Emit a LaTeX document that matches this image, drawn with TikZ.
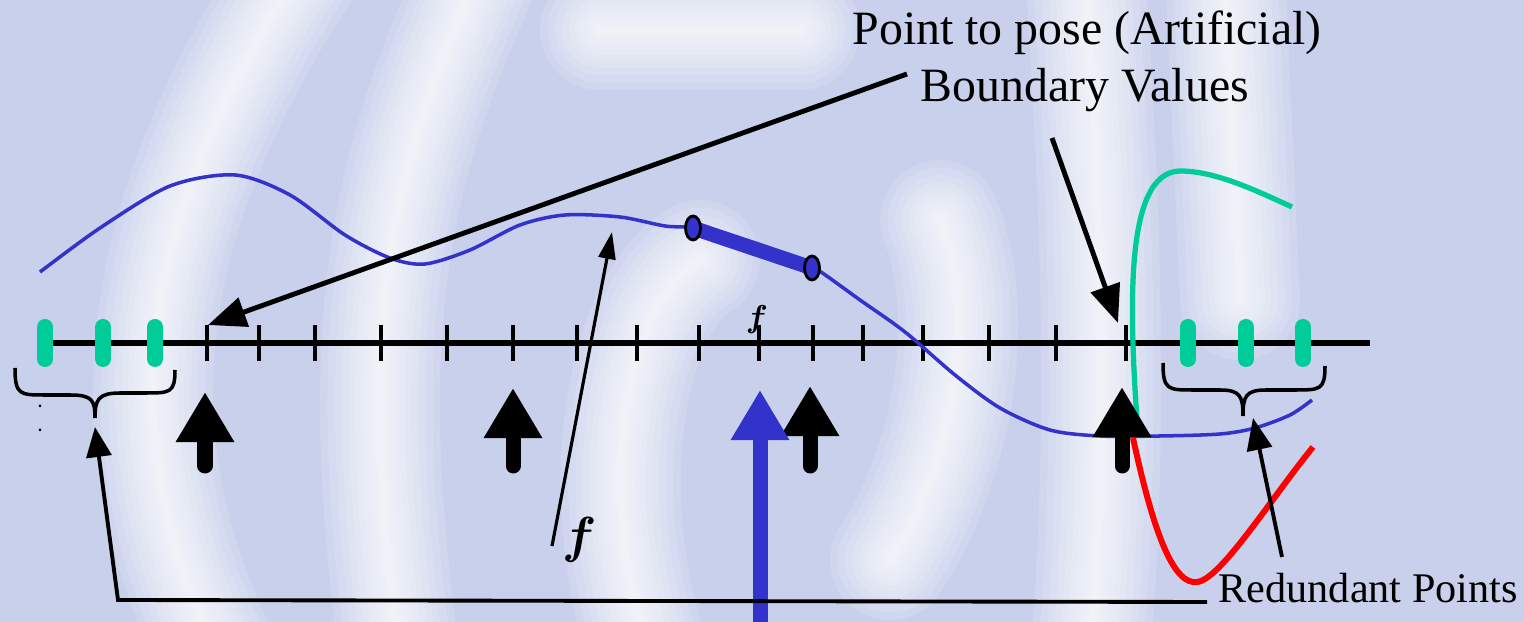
\documentclass[tikz,border=0pt]{standalone}
\usepackage{fontspec}
\setmainfont{Liberation Serif}
\usepackage{bm}
\usetikzlibrary{arrows.meta}
\definecolor{bgblue}{RGB}{200,208,236}
\definecolor{fnblue}{RGB}{51,51,204}
\definecolor{bvgreen}{RGB}{0,204,153}
\begin{document}
\begin{tikzpicture}[x=0.01cm, y=-0.01cm,
    glow/.style={white, line cap=round, opacity=0.14},
    axisline/.style={line width=1.7pt},
    tickmark/.style={line width=1pt},
    pad/.style={bvgreen, line width=0.16cm, line cap=round},
    bracestyle/.style={line width=1pt},
    blockarrow/.style={line width=0.15cm, line cap=round, -{Triangle[width=0.55cm,length=0.5cm]}},
    pointer/.style={line width=1.4pt, -{Triangle[width=0.3cm,length=0.38cm]}},
    thinpointer/.style={line width=0.9pt, -{Triangle[width=0.17cm,length=0.27cm]}}]
  \useasboundingbox (0,0) rectangle (1524,622);
  \fill[bgblue] (0,0) rectangle (1524,622);
  % faint watermark in the background
  \begin{scope}
    \clip (0,0) rectangle (1524,622);
    \foreach \w in {1.2,1.05,0.9,0.76,0.62,0.5,0.38,0.27,0.17,0.08}{
      \draw[glow, line width=\w cm] (300,-30) .. controls (150,200) and (100,420) .. (220,660);
      \draw[glow, line width=\w cm] (480,-30) .. controls (400,150) and (350,300) .. (400,660);
      \draw[glow, line width=\w cm] (650,660) .. controls (590,480) and (630,300) .. (700,260);
      \draw[glow, line width=\w cm] (940,220) .. controls (980,320) and (950,470) .. (890,560);
      \draw[glow, line width=\w cm] (1085,-30) .. controls (1100,200) and (1110,420) .. (1090,660);
      \draw[glow, line width=\w cm] (1225,-30) -- (1240,300);
      \draw[glow, line width=\w cm] (600,30) -- (800,30);
    }
  \end{scope}

  % axis with ticks and boundary pads
  \draw[axisline] (40,343) -- (1370,343);
  \foreach \x in {207,259,315,381,447,513,577,637,699,759,813,863,923,989,1056,1126}
    \draw[tickmark] (\x,325) -- (\x,361);
  \foreach \x in {45,103,155,1188,1246,1303}
    \draw[pad] (\x,327) -- (\x,359);

  % the function f
  \draw[fnblue, line width=1pt] plot[smooth] coordinates {(40,272) (100,228) (170,186)
    (235,175) (290,195) (345,235) (390,258) (425,264) (470,250) (520,225) (565,215)
    (620,217) (665,226) (695,228) (745,240) (790,256) (815,268) (860,300) (905,332)
    (955,375) (1000,408) (1050,430) (1100,436) (1160,436) (1220,434) (1255,428)
    (1290,415) (1312,400)};
  \coordinate (lo) at (693,228);
  \coordinate (ro) at (812,268);
  \draw[fnblue, line width=4.2pt] (lo) -- (ro);
  \draw[fill=fnblue, line width=0.8pt] (lo) ellipse (0.075cm and 0.12cm);
  \draw[fill=fnblue, line width=0.8pt] (ro) ellipse (0.075cm and 0.12cm);

  % extrapolations past the boundary
  \draw[bvgreen, line width=1.5pt] (1138,435) .. controls (1130,320) and (1122,172) .. (1180,171)
    .. controls (1215,171) and (1255,190) .. (1292,207);
  \draw[red, line width=1.7pt] (1133,438) .. controls (1155,540) and (1175,585) .. (1197,582)
    .. controls (1220,580) and (1270,500) .. (1313,447);

  % braces under the redundant points
  \draw[bracestyle] (15,368) .. controls (15,395) and (20,395) .. (45,395) -- (70,395)
    .. controls (92,395) and (95,400) .. (95,418);
  \draw[bracestyle] (175,370) .. controls (175,393) and (170,393) .. (145,393) -- (120,393)
    .. controls (98,393) and (95,400) .. (95,418);
  \draw[bracestyle] (1163,363) .. controls (1163,390) and (1168,390) .. (1193,390) -- (1220,390)
    .. controls (1240,390) and (1243,396) .. (1243,416);
  \draw[bracestyle] (1325,366) .. controls (1325,390) and (1320,390) .. (1295,390) -- (1266,390)
    .. controls (1246,390) and (1243,396) .. (1243,416);
  \fill (40,406) circle (0.015cm);
  \fill (40,430) circle (0.015cm);

  % sample points
  \foreach \x/\t in {205/392,513/388,810/386,1122/387}
    \draw[blockarrow] (\x,466) -- (\x,\t);
  \draw[blockarrow, fnblue] (760,640) -- (760,390);

  % labels
  \node[anchor=base west, inner sep=0, font=\fontsize{13.6}{16}\selectfont] (ptp) at (852,45) {Point to pose (Artificial)};
  \node[anchor=base west, inner sep=0, font=\fontsize{13.6}{16}\selectfont] (bv) at (920,102) {Boundary Values};
  \node[anchor=base west, inner sep=0, font=\fontsize{12}{14}\selectfont] (rp) at (1218,603) {Redundant Points};
  \node[inner sep=0, font=\fontsize{14}{16}\selectfont] (fbig) at (580,540) {$\bm{f}$};
  \node[inner sep=0, font=\fontsize{9}{10}\selectfont] (fsmall) at (757,320) {$\bm{f}$};

  % pointers
  \coordinate (bvtail) at (907,74);
  \coordinate (bvhead) at (208,325);
  \coordinate (ptail) at (1052,138);
  \coordinate (phead) at (1118,323);
  \coordinate (ftail) at (552,546);
  \coordinate (fhead) at (612,232);
  \coordinate (rtail) at (1282,557);
  \coordinate (rhead) at (1253,418);
  \coordinate (lstart) at (1207,602);
  \coordinate (lcorner) at (118,600);
  \coordinate (lhead) at (95,427);
  \draw[pointer] (bvtail) -- (bvhead);
  \draw[pointer] (ptail) -- (phead);
  \draw[thinpointer] (ftail) -- (fhead);
  \draw[pointer, line width=1.1pt, -{Triangle[width=0.25cm,length=0.32cm]}] (rtail) -- (rhead);
  \draw[pointer, line width=1.1pt, -{Triangle[width=0.25cm,length=0.3cm]}] (lstart) -- (lcorner) -- (lhead);
\end{tikzpicture}
\end{document}
